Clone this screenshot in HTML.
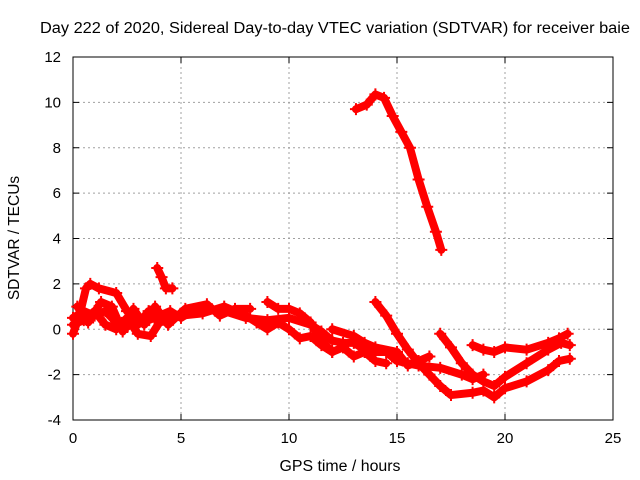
<!DOCTYPE html>
<html><head><meta charset="utf-8"><style>
body{margin:0;background:#fff;}
svg{display:block;font-family:"Liberation Sans",sans-serif;}
</style></head><body>
<svg id="chart" width="640" height="480">
<text x="335" y="33" font-size="15.5" text-anchor="middle" textLength="590" lengthAdjust="spacingAndGlyphs">Day 222 of 2020, Sidereal Day-to-day VTEC variation (SDTVAR) for receiver baie</text>
<text x="340" y="471" font-size="15.5" text-anchor="middle" textLength="121" lengthAdjust="spacingAndGlyphs">GPS time / hours</text>
<text transform="translate(19,238) rotate(-90)" font-size="15.5" text-anchor="middle">SDTVAR / TECUs</text>
<g id="grid"></g><g id="axes"></g><g id="series"></g>
</svg>
<script>
const xTicks=[0,5,10,15,20,25];
const yTicks=[-4,-2,0,2,4,6,8,10,12];
const trackHigh=[[13.1,9.7],[13.6,9.9],[14,10.35],[14.4,10.2],[14.8,9.4],[15.2,8.7],[15.6,8.0],[16,6.6],[16.4,5.4],[16.8,4.3],[17.05,3.5]];
const trackB=[[14,1.2],[14.5,0.6],[15,-0.2],[15.5,-0.9],[16,-1.5],[16.5,-2.0],[17,-2.5],[17.5,-2.9],[18.5,-2.8],[19,-2.7],[19.5,-3.0],[20,-2.6],[21,-2.3],[22,-1.8],[22.5,-1.4],[23,-1.3]];
const trackC=[[17,-0.2],[17.5,-0.8],[18,-1.5],[18.5,-2.0],[19,-2.3],[19.5,-2.5],[20,-2.1],[21,-1.5],[22,-0.9],[22.6,-0.6],[23,-0.7]];
const trackD=[[18.5,-0.7],[19,-0.9],[19.5,-1.0],[20,-0.8],[21,-0.9],[22,-0.6],[22.5,-0.4],[22.9,-0.2]];
const trackMain=[[0,0.5],[0.5,0.8],[1,0.6],[1.5,0.8],[2,0.3],[2.5,0.1],[3,0.5],[3.5,0.4],[4,0.6],[4.5,0.8],[5,0.5],[5.5,0.8],[6,0.9],[7,0.8],[8,0.5],[9,0.4],[10,0.5],[11,0.2],[11.5,-0.1],[12,-0.5],[12.5,-0.6],[13,-0.6],[13.5,-0.9],[14,-1.0],[14.5,-1.0],[15,-1.4],[15.5,-1.5],[16,-1.6],[17,-1.7],[18,-2.0],[18.5,-2.2],[19,-2.0]];
const trackUpper=[[0,-0.2],[0.3,0.6],[0.6,1.8],[0.8,2.0],[1.2,1.8],[2,1.6],[2.5,0.8],[3,0.2],[3.5,0.8],[4,0.4]];
const trackSpike=[[3.9,2.7],[4.1,2.3],[4.3,1.8],[4.6,1.8]];
const trackLower=[[0,0.2],[0.5,0.4],[1,0.8],[1.5,0.2],[2,0],[2.5,0.5],[3,-0.2],[3.6,-0.3],[4,0.3],[5,0.6],[6,0.7],[7,1.0],[8,0.6],[8.5,0.3],[9,0],[9.5,0.3],[10,0],[10.5,-0.4],[11,-0.3],[11.5,-0.7],[12,-1.0],[12.5,-0.8],[13,-1.2],[13.5,-1.0],[14,-1.4],[14.5,-1.5]];
const trackMid=[[9,1.2],[9.5,0.9],[10,0.9],[10.5,0.7],[11,0.3],[11.5,-0.5],[12,-1.0]];
const trackJ=[[12,0],[13,-0.3],[13.5,-0.6],[14,-0.8],[15,-1.0],[15.5,-1.6],[16,-1.4],[16.5,-1.2]];
const trackEarly2=[[0.2,1.0],[0.7,0.3],[1.3,1.2],[1.8,1.0],[2.3,-0.1],[2.8,0.9],[3.3,0.2],[3.8,1.0],[4.4,0.2],[5.2,0.9],[6.2,1.1],[6.8,0.6],[7.5,0.9],[8.2,0.9]];
const tracks=[trackHigh,trackB,trackC,trackD,trackMain,trackUpper,trackSpike,trackLower,trackMid,trackJ,trackEarly2];
const X0=73,X1=613,Y0=420,Y1=57;
const sx=h=>X0+(h-0)/25*(X1-X0);
const sy=v=>Y0-(v+4)/16*(Y0-Y1);
const NS="http://www.w3.org/2000/svg";
function mk(t,a,p){const e=document.createElementNS(NS,t);for(const k in a)e.setAttribute(k,a[k]);p.appendChild(e);return e;}
const grid=document.getElementById('grid'),axes=document.getElementById('axes'),ser=document.getElementById('series');
xTicks.forEach(t=>{const x=sx(t);
 if(t>0&&t<25){const g=mk('line',{x1:x,x2:x,y1:Y1,y2:Y0,stroke:'#a0a0a0','stroke-dasharray':'2,3'},grid);
 
 }
 const l=mk('text',{x:x,y:443,'font-size':15,'text-anchor':'middle'},axes);l.textContent=t;
 
 
 mk('line',{x1:x,x2:x,y1:Y0,y2:Y0-6,stroke:'#000'},axes);mk('line',{x1:x,x2:x,y1:Y1,y2:Y1+6,stroke:'#000'},axes);});
yTicks.forEach(t=>{const y=sy(t);
 if(t>-4&&t<12){const g=mk('line',{x1:X0,x2:X1,y1:y,y2:y,stroke:'#a0a0a0','stroke-dasharray':'2,3'},grid);
 
 }
 const l=mk('text',{x:61,y:y+5,'font-size':15,'text-anchor':'end'},axes);l.textContent=t;
 
 
 mk('line',{x1:X0,x2:X0+6,y1:y,y2:y,stroke:'#000'},axes);mk('line',{x1:X1,x2:X1-6,y1:y,y2:y,stroke:'#000'},axes);});
const fr=mk('rect',{x:X0,y:Y1,width:X1-X0,height:Y0-Y1,fill:'none',stroke:'#000'},axes);


tracks.forEach((tr,i)=>{
 const p=mk('polyline',{points:tr.map(d=>sx(d[0])+','+sy(d[1])).join(' '),fill:'none',stroke:'#ff0000','stroke-width':8,'stroke-linejoin':'round','stroke-linecap':'round'},ser);
 
 
 tr.forEach(d=>{const x=sx(d[0]),y=sy(d[1]);
  const m=mk('path',{d:`M${x-6},${y}H${x+6}M${x},${y-6}V${y+6}`,stroke:'#ff0000','stroke-width':2},ser);
  
  });
});
</script>
</body></html>
